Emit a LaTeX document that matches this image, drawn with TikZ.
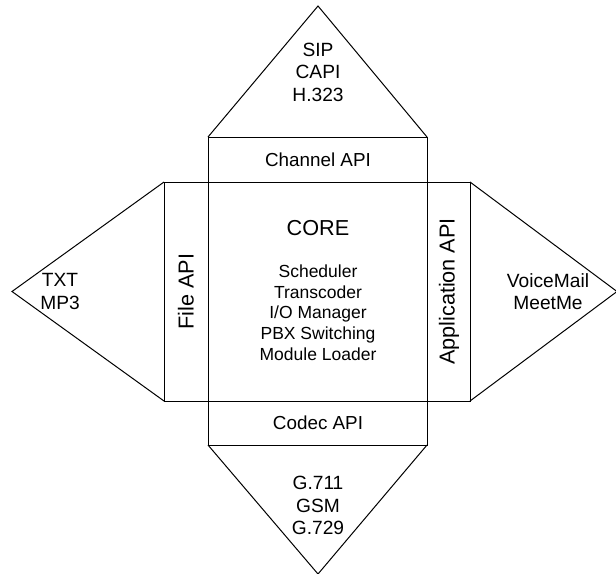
\documentclass[tikz,border=0pt]{standalone}
\usepackage{fontspec}
\setmainfont{Liberation Sans}
\begin{document}
\begin{tikzpicture}[x=0.6pt,y=-0.6pt,line width=0.6pt,
    txt/.style={align=center,inner sep=0pt,font=\fontsize{10.5}{12.4}\selectfont},
    bandtxt/.style={align=center,inner sep=0pt,font=\fontsize{11.3}{13.5}\selectfont},
    bigtxt/.style={align=center,inner sep=0pt,font=\fontsize{11.5}{13.5}\selectfont}] %Arquitectura
            \useasboundingbox (0,0) rectangle (616,573);

            \coordinate (A) at (208,182);
            \coordinate (B) at (427,182);
            \coordinate (C) at (427,401);
            \coordinate (D) at (208,401);

            \coordinate (T1) at (208,137);
            \coordinate (T2) at (427,137);
            \coordinate (B1) at (208,445);
            \coordinate (B2) at (427,445);
            \coordinate (L1) at (164,182);
            \coordinate (L2) at (164,401);
            \coordinate (R1) at (470,182);
            \coordinate (R2) at (470,401);

            \coordinate (TA) at (318,6);
            \coordinate (BA) at (318,574);
            \coordinate (LA) at (12,291.5);
            \coordinate (RA) at (617,291.5);

            \draw (A) rectangle (C);
            \draw (T1) rectangle (B);
            \draw (D) rectangle (B2);
            \draw (L1) rectangle (D);
            \draw (B) rectangle (R2);

            \draw (T1) -- (TA) -- (T2);
            \draw (B1) -- (BA) -- (B2);
            \draw (L1) -- (LA) -- (L2);
            \draw (R1) -- (RA) -- (R2);

            \node[bigtxt,font=\fontsize{13}{15}\selectfont] (core) at (318,228.5) {CORE};
            \node[txt] (modules) at (318,312.5) {Scheduler\\Transcoder\\I/O Manager\\PBX Switching\\Module Loader};

            \node[bandtxt] (chan) at (318,160) {Channel API};
            \node[bandtxt] (codec) at (318,423) {Codec API};
            \node[bandtxt,rotate=90,font=\fontsize{13}{15}\selectfont] (file) at (186,291.5) {File API};
            \node[bandtxt,rotate=90,font=\fontsize{13}{15}\selectfont] (app) at (449,291.5) {Application API};

            \node[bigtxt] (proto) at (318,72) {SIP\\CAPI\\H.323};
            \node[bigtxt] (codecs) at (318,505.5) {G.711\\GSM\\G.729};
            \node[bigtxt] (formats) at (60,291.5) {TXT\\MP3};
            \node[bigtxt] (apps) at (548,291.5) {VoiceMail\\MeetMe};
        \end{tikzpicture}
\end{document}
